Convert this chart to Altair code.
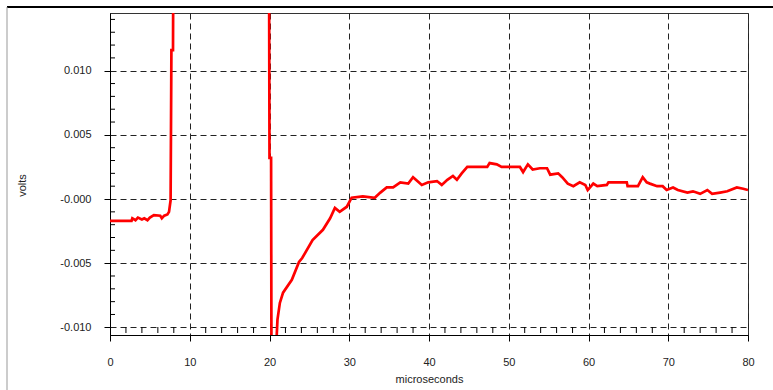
import altair as alt
import pandas as pd

# trace (microseconds, volts)
t_us = [0, 2.7, 2.8, 3.2, 3.5, 4.0, 4.3, 4.7, 5.0, 5.5, 6.3, 6.5, 6.8, 7.2, 7.4, 7.6,
        7.7, 7.9, 8.0, 19.9, 20.0, 20.2, 20.3, 20.6, 20.8, 21.0, 21.3, 21.7, 22.8, 23.7,
        24.1, 25.4, 26.7, 27.6, 28.2, 28.8, 29.7, 30.3, 31.7, 33.2, 33.9, 34.7, 35.5,
        36.4, 37.4, 38.0, 39.1, 39.9, 41.0, 41.6, 42.3, 43.0, 43.5, 44.1, 44.8, 47.3,
        47.6, 48.5, 49.1, 51.4, 51.8, 52.4, 53.0, 53.9, 54.8, 55.2, 56.2, 56.7, 57.4,
        58.1, 58.9, 59.6, 59.9, 60.6, 61.1, 62.3, 62.5, 64.8, 64.9, 66.2, 66.8, 67.3,
        67.7, 68.6, 69.3, 69.8, 70.6, 71.2, 72.4, 73.1, 74.0, 74.9, 75.5, 76.5, 77.4,
        78.6, 79.4, 80.0]
volts = [-0.00171, -0.00171, -0.00150, -0.00165, -0.00145, -0.00160, -0.00150, -0.00165,
         -0.00145, -0.00125, -0.00130, -0.00150, -0.00130, -0.00120, -0.00100, -0.00010,
         0.0116, 0.0116, 0.0300, 0.0300, 0.0032, 0.0032, -0.0300, -0.0300, -0.0120,
         -0.0094, -0.0081, -0.0073, -0.0063, -0.0049, -0.0046, -0.0032, -0.0024, -0.0015,
         -0.0007, -0.0010, -0.0006, 0.0001, 0.0002, 0.0001, 0.0005, 0.0009, 0.0009,
         0.0013, 0.0012, 0.0017, 0.0011, 0.0013, 0.0014, 0.0011, 0.0015, 0.0018, 0.0015,
         0.0020, 0.0025, 0.0025, 0.0028, 0.0027, 0.0025, 0.0025, 0.0021, 0.0027, 0.0023,
         0.0024, 0.0024, 0.0019, 0.0020, 0.0017, 0.0012, 0.0010, 0.0013, 0.0011, 0.0007,
         0.0012, 0.0010, 0.0011, 0.0013, 0.0013, 0.0010, 0.0010, 0.0017, 0.0013, 0.0012,
         0.0010, 0.0010, 0.0007, 0.0009, 0.0007, 0.0005, 0.0006, 0.0004, 0.0007, 0.0004,
         0.0005, 0.0006, 0.0009, 0.0008, 0.0007]

x_major = [0, 10, 20, 30, 40, 50, 60, 70, 80]
x_minor = [2, 4, 6, 8, 12, 14, 16, 18, 22, 24, 26, 28, 32, 34, 36, 38, 42, 44, 46, 48,
           52, 54, 56, 58, 62, 64, 66, 68, 72, 74, 76, 78]
y_major = [-0.010, -0.005, 0.0, 0.005, 0.010]
y_minor = [-0.009, -0.008, -0.007, -0.006, -0.004, -0.003, -0.002, -0.001,
           0.001, 0.002, 0.003, 0.004, 0.006, 0.007, 0.008, 0.009,
           0.011, 0.012, 0.013, 0.014]

W, H = 638, 322
FONT = "Liberation Sans"

xscale = alt.Scale(domain=[0, 80], nice=False, zero=False)
yscale = alt.Scale(domain=[-0.0106, 0.0145], nice=False, zero=False)

xaxis = alt.Axis(values=x_major, format="d", grid=True, gridDash=[6, 4],
                 gridColor="#222", gridOpacity=1, tickSize=6, tickColor="#000",
                 domainColor="#000", labelFont=FONT, labelFontSize=11,
                 labelColor="#222", labelPadding=15, labelFlush=False,
                 title="microseconds",
                 titleFont=FONT, titleFontSize=11, titleFontWeight="normal",
                 titleColor="#222", titlePadding=6)
yaxis = alt.Axis(values=y_major, grid=True, gridDash=[6, 4], gridColor="#222",
                 gridOpacity=1, tickSize=6, tickColor="#000", domainColor="#000",
                 labelFont=FONT, labelFontSize=11, labelColor="#222",
                 labelPadding=13, labelFlush=False,
                 labelExpr="abs(datum.value) < 1e-9 ? '-0.000' : (datum.value < 0 ? '-' + format(-datum.value, '.3f') : format(datum.value, '.3f'))",
                 title="volts", titleFont=FONT, titleFontSize=11,
                 titleFontWeight="normal", titleColor="#222", titleAngle=270,
                 titleX=-88, titleY=172, titleAlign="center",
                 titleBaseline="middle")

df = pd.DataFrame({"t": t_us, "v": volts})

line = alt.Chart(df).mark_line(color="#ff0000", strokeWidth=2.7, clip=True).encode(
    x=alt.X("t:Q", scale=xscale, axis=xaxis, title="microseconds"),
    y=alt.Y("v:Q", scale=yscale, axis=yaxis, title="volts"),
)

ymin = alt.Chart(pd.DataFrame({"m": y_minor})).mark_rule(color="#000", strokeWidth=1).encode(
    y=alt.Y("m:Q", scale=yscale, axis=yaxis, title="volts"),
    x=alt.value(0), x2=alt.value(5),
)
xmin = alt.Chart(pd.DataFrame({"n": x_minor})).mark_rule(color="#000", strokeWidth=1).encode(
    x=alt.X("n:Q", scale=xscale, axis=xaxis, title="microseconds"),
    y=alt.value(H - 2), y2=alt.value(H - 8),
)

frame_top = alt.Chart(pd.DataFrame({"a": [0]})).mark_rule(color="#000", strokeWidth=2).encode(
    x=alt.value(-103), x2=alt.value(663), y=alt.value(-6))
frame_left = alt.Chart(pd.DataFrame({"a": [0]})).mark_rule(color="#999", strokeWidth=1).encode(
    x=alt.value(-103), y=alt.value(-6), y2=alt.value(377))

chart = alt.layer(line, ymin, xmin, frame_top, frame_left).properties(
    width=W, height=H,
    autosize=alt.AutoSizeParams(type="none"),
    padding={"left": 110, "top": 13, "right": 25, "bottom": 55},
    background="white",
).configure_view(stroke="#333", strokeWidth=1)

chart.save("out.html", embed_options={"renderer": "svg", "actions": False})
